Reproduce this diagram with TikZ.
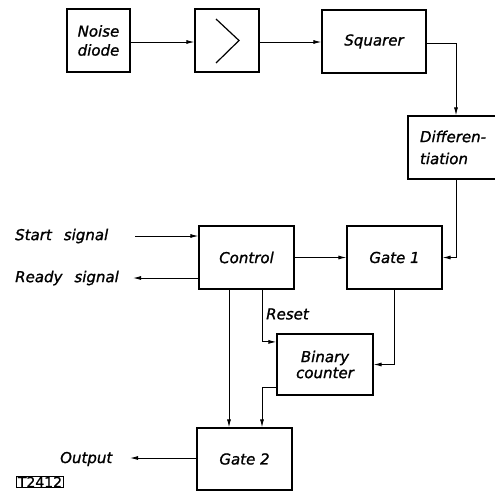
\documentclass[tikz,border=0pt]{standalone}
\usepackage{fontspec}
\setmainfont{DejaVu Sans}[ItalicFeatures={FakeBold=1.2},UprightFeatures={FakeBold=0.8}]
\usetikzlibrary{arrows.meta}
\begin{document}
\begin{tikzpicture}[x=1pt,y=-1pt,
  blk/.style={draw,line width=1.2pt,inner sep=0pt,align=center,
    font=\fontsize{15}{19}\selectfont\itshape},
  lbl/.style={inner sep=0pt,font=\fontsize{15}{19}\selectfont\itshape},
  arr/.style={line width=0.9pt,-{Latex[length=8pt,width=4pt]}},
  ln/.style={line width=0.9pt}]
\useasboundingbox (0,0) rectangle (495,493);
% blocks
\node[blk,minimum width=63pt,minimum height=63pt] (noise) at (98.5,40.5) {Noise\\diode};
\node[blk,minimum width=64pt,minimum height=63pt] (amp) at (227,40.5) {};
\node[blk,minimum width=104pt,minimum height=63pt] (squarer) at (374,41.5) {Squarer};
\node[blk,minimum width=96pt,minimum height=63pt,align=left,text width=72pt,
  font=\fontsize{15}{22}\selectfont\itshape] (diff) at (456,147.5) {Differen-\\tiation};
\node[blk,minimum width=95pt,minimum height=63pt] (control) at (246.5,257.5) {Control};
\node[blk,minimum width=95pt,minimum height=63pt] (gate1) at (394.5,257.5) {Gate 1};
\node[blk,minimum width=96pt,minimum height=61pt,
  font=\fontsize{15}{16}\selectfont\itshape] (binary) at (325,364.5) {Binary\\counter};
\node[blk,minimum width=95pt,minimum height=62pt] (gate2) at (244.5,459) {\raisebox{-3pt}{Gate 2}};
% amplifier symbol
\draw[line width=1.2pt] ([xshift=-11pt,yshift=21.5pt]amp.center) -- ([xshift=12pt]amp.center) -- ([xshift=-11pt,yshift=-22.5pt]amp.center);
% labels
\node[lbl,anchor=west] (start) at (15,236) {Start\hspace{0.8em}signal};
\node[lbl,anchor=west] (ready) at (15,278) {Ready\hspace{0.8em}signal};
\node[lbl,anchor=west] (output) at (60,459) {Output};
\node[lbl,anchor=west] (reset) at (266,314) {Reset};
\node[draw,line width=1pt,inner xsep=1pt,inner ysep=0.5pt,
  font=\fontsize{14}{14}\selectfont] (code) at (40,482) {T2412};
\coordinate (startend) at (135,236);
\coordinate (readyend) at (133,278);
\coordinate (outend) at (130,458);
% connectors
\draw[arr] (noise.east |- 0,42) -- (amp.west |- 0,42);
\draw[arr] (amp.east |- 0,42) -- (squarer.west |- 0,42);
\draw[arr] (squarer.east |- 0,43) -| (diff.north);
\draw[arr] (diff.south) |- (gate1.east);
\draw[arr] (startend) -- (control.west |- startend);
\draw[arr] (control.west |- readyend) -- (readyend);
\draw[arr] (control.east) -- (gate1.west);
\draw[arr] ([xshift=-17.5pt]control.south) coordinate (cA) -- (cA |- gate2.north);
\draw[arr] ([xshift=15.5pt]control.south) coordinate (cB) |- ([yshift=-8.5pt]binary.north west);
\draw[arr] (gate1.south) |- (binary.east);
\draw[arr] ([yshift=8.5pt]binary.south west) -| ([xshift=17.5pt]gate2.north);
\draw[arr] (gate2.west |- outend) -- (outend);
\end{tikzpicture}
\end{document}
